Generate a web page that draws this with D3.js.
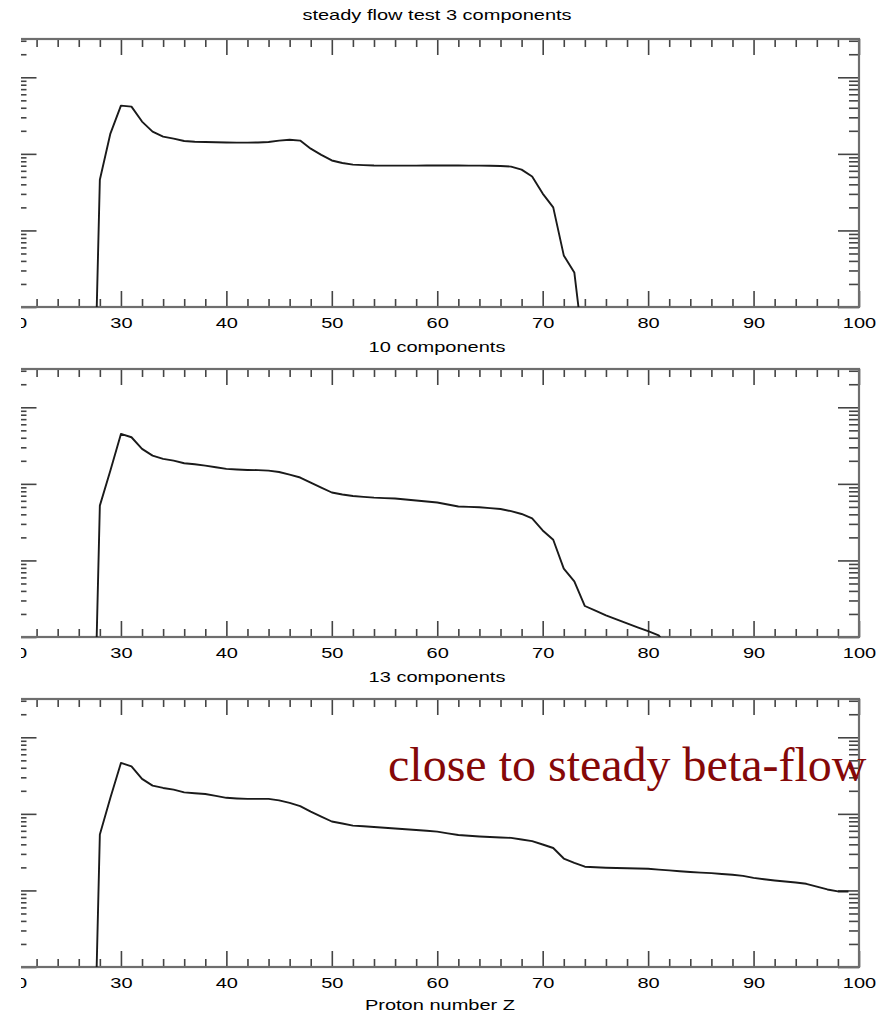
<!DOCTYPE html>
<html>
<head>
<meta charset="utf-8">
<script src="https://cdn.jsdelivr.net/npm/d3@7"></script>
<style>
  html, body { margin: 0; padding: 0; background: #fff; }
  svg { display: block; }
</style>
</head>
<body>
<svg id="chart" width="889" height="1013"></svg>
<script>
// ---- data -------------------------------------------------------------
const panelTitles = ["steady flow test 3 components", "10 components", "13 components"];
const xTickLabels = [20, 30, 40, 50, 60, 70, 80, 90, 100];
const xLabel = "Proton number Z";
const note = "close to steady beta-flow";

// proton number Z and abundance for each run
const z3 = d3.range(27, 75);
const ab3 = [1e-7, 0.046, 0.184, 0.427, 0.414, 0.264, 0.195, 0.168, 0.158, 0.147,
  0.144, 0.143, 0.142, 0.141, 0.140, 0.140, 0.141, 0.143, 0.149, 0.153,
  0.149, 0.117, 0.097, 0.082, 0.076, 0.0724, 0.0712, 0.0705, 0.0703, 0.0702,
  0.0702, 0.0703, 0.0704, 0.0705, 0.0705, 0.0704, 0.0703, 0.0702, 0.0700, 0.0695,
  0.0682, 0.0623, 0.0506, 0.0303, 0.0200, 0.00472, 0.00283, 0.0002];

const z10 = d3.range(27, 83);
const ab10 = [1e-7, 0.052, 0.149, 0.449, 0.406, 0.286, 0.234, 0.212, 0.201, 0.186,
  0.180, 0.173, 0.165, 0.157, 0.154, 0.152, 0.151, 0.149, 0.143, 0.132,
  0.121, 0.104, 0.0895, 0.0771, 0.0726, 0.0693, 0.0677, 0.0662, 0.0652, 0.0643,
  0.0624, 0.0605, 0.0588, 0.0570, 0.0537, 0.0506, 0.0500, 0.0494, 0.0482, 0.0469,
  0.0440, 0.0404, 0.0353, 0.0246, 0.0186, 0.0078, 0.00532, 0.00254, 0.00221, 0.00192,
  0.00170, 0.00151, 0.00134, 0.00119, 0.00105, 0.00071];

const z13 = d3.range(27, 100);
const ab13 = [1e-7, 0.0537, 0.162, 0.462, 0.418, 0.286, 0.234, 0.218, 0.207, 0.191,
  0.186, 0.182, 0.172, 0.162, 0.159, 0.157, 0.157, 0.157, 0.150, 0.139,
  0.126, 0.107, 0.0923, 0.0795, 0.0748, 0.0703, 0.0688, 0.0673, 0.0658, 0.0643,
  0.0629, 0.0615, 0.0601, 0.0587, 0.0557, 0.0529, 0.0517, 0.0506, 0.0498, 0.0491,
  0.0485, 0.0462, 0.0440, 0.0398, 0.0358, 0.0261, 0.0229, 0.0204, 0.0201, 0.0198,
  0.0196, 0.0195, 0.0193, 0.0192, 0.0187, 0.0183, 0.0178, 0.0174, 0.0171, 0.0168,
  0.0164, 0.0160, 0.0155, 0.0146, 0.0140, 0.0135, 0.0131, 0.0127, 0.0122, 0.0112,
  0.0103, 0.0097, 0.0097];

const runs = [
  { z: z3, ab: ab3 },
  { z: z10, ab: ab10 },
  { z: z13, ab: ab13 }
];

// ---- layout -----------------------------------------------------------
const svg = d3.select("#chart");
const plotLeft = 15.5, plotRight = 859;
const panelTops = [39, 369, 699];
const panelH = 268;
const yDomain = [1e-3, Math.pow(10, 0.5)];
const fontFam = "'Liberation Sans', Helvetica, Arial, sans-serif";
const stretch = 1.43;
const frameColor = "#6e6e6e";
const tickColor = "#444";

svg.append("rect").attr("width", 889).attr("height", 1013).attr("fill", "#fff");

const x = d3.scaleLinear().domain([20, 100]).range([plotLeft, plotRight]);
const xMinor = d3.range(22, 100, 2).filter(v => v % 10 !== 0);

// minor log ticks: 2..9 times each decade inside the range
const yMajor = [1e-3, 1e-2, 1e-1, 1];
const yMinor = [];
for (let e = -3; e <= 0; e++) for (let k = 2; k <= 9; k++) {
  const v = k * Math.pow(10, e);
  if (v < yDomain[1]) yMinor.push(v);
}

function stretchedText(sel) {
  return sel.attr("font-family", fontFam).attr("font-size", 14).attr("fill", "#000");
}

function styleTicks(g) {
  g.select(".domain").remove();
  g.selectAll(".tick line").attr("stroke", tickColor).attr("stroke-width", 1.6);
}

runs.forEach((run, i) => {
  const top = panelTops[i], bottom = top + panelH;
  const y = d3.scaleLog().domain(yDomain).range([bottom, top]);
  const g = svg.append("g");

  // panel caption
  g.append("text")
    .attr("transform", `translate(437,${top - (i === 0 ? 19 : 17)}) scale(${stretch},1)`)
    .attr("text-anchor", "middle")
    .call(stretchedText)
    .text(panelTitles[i]);

  // x ticks (major + minor) on bottom and top, pointing inward
  g.append("g").attr("transform", `translate(0,${bottom})`)
    .call(d3.axisBottom(x).tickValues(xTickLabels).tickSize(-16).tickFormat("")).call(styleTicks);
  g.append("g").attr("transform", `translate(0,${bottom})`)
    .call(d3.axisBottom(x).tickValues(xMinor).tickSize(-8).tickFormat("")).call(styleTicks);
  g.append("g").attr("transform", `translate(0,${top})`)
    .call(d3.axisTop(x).tickValues(xTickLabels).tickSize(-16).tickFormat("")).call(styleTicks);
  g.append("g").attr("transform", `translate(0,${top})`)
    .call(d3.axisTop(x).tickValues(xMinor).tickSize(-8).tickFormat("")).call(styleTicks);

  // bottom tick labels
  const lab = g.append("g").attr("transform", `translate(0,${bottom})`)
    .call(d3.axisBottom(x).tickValues(xTickLabels).tickSize(0).tickPadding(0).tickFormat(d3.format("d")));
  lab.select(".domain").remove();
  lab.selectAll(".tick text")
    .attr("y", 21.5).attr("dy", 0)
    .attr("transform", `scale(${stretch},1)`)
    .attr("font-family", fontFam).attr("font-size", 14).attr("fill", "#000");

  // log y ticks on left and right, pointing inward
  g.append("g").attr("transform", `translate(${plotLeft},0)`)
    .call(d3.axisLeft(y).tickValues(yMajor).tickSize(-21).tickFormat("")).call(styleTicks);
  g.append("g").attr("transform", `translate(${plotLeft},0)`)
    .call(d3.axisLeft(y).tickValues(yMinor).tickSize(-11).tickFormat("")).call(styleTicks);
  g.append("g").attr("transform", `translate(${plotRight},0)`)
    .call(d3.axisRight(y).tickValues(yMajor).tickSize(-21).tickFormat("")).call(styleTicks);
  g.append("g").attr("transform", `translate(${plotRight},0)`)
    .call(d3.axisRight(y).tickValues(yMinor).tickSize(-10).tickFormat("")).call(styleTicks);

  // frame
  g.append("rect")
    .attr("x", plotLeft).attr("y", top)
    .attr("width", plotRight - plotLeft).attr("height", panelH)
    .attr("fill", "none").attr("stroke", frameColor).attr("stroke-width", 2.2);

  // abundance curve, clipped to the frame
  const clipId = `clip${i}`;
  svg.append("clipPath").attr("id", clipId).append("rect")
    .attr("x", plotLeft).attr("y", top)
    .attr("width", plotRight - plotLeft).attr("height", panelH);

  const pts = run.z.map((zv, j) => [zv, run.ab[j]]);
  g.append("path")
    .datum(pts)
    .attr("clip-path", `url(#${clipId})`)
    .attr("fill", "none")
    .attr("stroke", "#1a1a1a")
    .attr("stroke-width", 1.9)
    .attr("stroke-linejoin", "round")
    .attr("d", d3.line().x(d => x(d[0])).y(d => y(d[1])));
});

// page margin trims the left edge of the panels
svg.append("rect").attr("x", 0).attr("y", 0).attr("width", 21).attr("height", 1013).attr("fill", "#fff");

// axis title
svg.append("text")
  .attr("transform", `translate(440,1010) scale(${stretch},1)`)
  .attr("text-anchor", "middle")
  .call(stretchedText)
  .text(xLabel);

// annotation
svg.append("text")
  .attr("x", 388).attr("y", 781)
  .attr("font-family", "'Liberation Serif', 'Times New Roman', serif")
  .attr("font-size", 48)
  .attr("fill", "#850808")
  .text(note);
</script>
</body>
</html>
